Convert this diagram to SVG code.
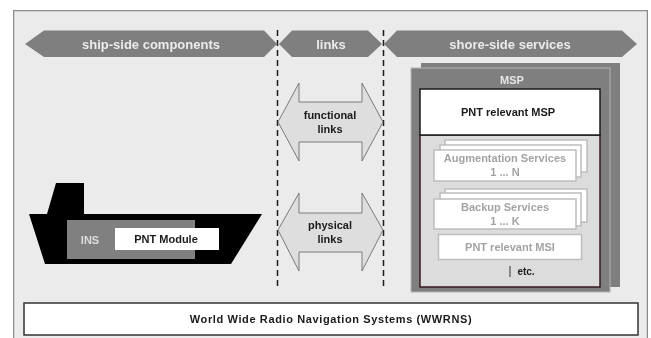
<svg xmlns="http://www.w3.org/2000/svg" width="651" height="338" viewBox="0 0 651 338">
<style>
text{font-family:"Liberation Sans",Arial,sans-serif;font-weight:700;text-anchor:middle}
.ban{fill:#7f7f7f}
.bt{fill:#ececec;font-size:13px}
.arr{fill:#dedede;stroke:#7a7a7a;stroke-width:1}
.dash{fill:none;stroke:#1a1a1a;stroke-width:1.5;stroke-dasharray:6 4}
.card{fill:#fff;stroke:#bdbdbd;stroke-width:1.5}
.gt{fill:#a3a3a3;font-size:11px}
.bk{fill:#1a1a1a;font-size:11px}
</style>
<defs><filter id="soft" x="0" y="0" width="100%" height="100%"><feGaussianBlur stdDeviation="0.4"/></filter></defs>
<rect width="651" height="338" fill="#fff"/>
<g filter="url(#soft)">
<path d="M13.5 338V10.5H647.5V338" fill="#ebebeb" stroke="#8c8c8c" stroke-width="1.5"/>
<g id="banner-ship"><path class="ban" d="M25 44L44 30.500H264L277 44L264 57H44Z"/><text class="bt" x="151" y="49">ship-side components</text></g>
<g id="banner-links"><path class="ban" d="M279 44L292 30.500H368L382 44L368 57H292Z"/><text class="bt" x="331" y="49">links</text></g>
<g id="banner-shore"><path class="ban" d="M384 44L397 30.500H622L637 44L622 57H397Z"/><text class="bt" x="510" y="49">shore-side services</text></g>
<g id="connectors">
<path class="dash" d="M277.500 30V288"/>
<path class="dash" d="M383.500 30V288"/>
</g>
<g id="functional-links"><path class="arr" d="M278 122L299 83V102H362V83L383 122L362 161V142H299V161Z"/><text class="bk" x="330" y="119">functional</text><text class="bk" x="330" y="133">links</text></g>
<g id="physical-links"><path class="arr" d="M278 230L299 193V213H362V193L383 230L362 271V252H299V271Z"/><text class="bk" x="330" y="229">physical</text><text class="bk" x="330" y="243">links</text></g>
<g id="ship">
<path d="M29 214H47L56 183H84V214H262L231 264H45Z" fill="#000"/>
<rect x="67" y="220" width="128" height="39" fill="#808080"/>
<text x="90" y="244" fill="#dcdcdc" font-size="11">INS</text>
</g>
<g id="pnt-module"><rect x="115" y="228" width="104" height="22" fill="#fff"/><text class="bk" x="166" y="243">PNT Module</text></g>
<g id="msp">
<rect x="421" y="63" width="199" height="224" fill="#7f7f7f"/>
<rect x="411" y="68" width="199" height="224" fill="#7f7f7f" stroke="#b5b5b5" stroke-width="1"/>
<text x="512" y="84" fill="#e6e6e6" font-size="11">MSP</text>
<rect x="420" y="135" width="180" height="152" fill="#dcdcdc" stroke="#3a1a1f" stroke-width="1.500"/>
</g>
<g id="pnt-relevant-msp"><rect x="420" y="89" width="180" height="46" fill="#fff" stroke="#1a1a1a" stroke-width="1.500"/><text class="bk" x="508" y="116">PNT relevant MSP</text></g>
<g id="augmentation-services">
<rect class="card" x="445" y="140" width="142" height="32"/>
<rect class="card" x="440" y="145" width="141" height="32"/>
<rect class="card" x="434" y="150" width="142" height="31"/>
<text class="gt" x="505" y="162">Augmentation Services</text>
<text class="gt" x="505" y="176">1 ... N</text>
</g>
<g id="backup-services">
<rect class="card" x="445" y="189" width="142" height="33"/>
<rect class="card" x="440" y="193" width="141" height="33"/>
<rect class="card" x="434" y="199" width="142" height="30"/>
<text class="gt" x="505" y="211">Backup Services</text>
<text class="gt" x="505" y="225">1 ... K</text>
</g>
<g id="pnt-relevant-msi"><rect class="card" x="438.500" y="234.500" width="143" height="25"/><text class="gt" x="510" y="251">PNT relevant MSI</text></g>
<text class="bk" x="526" y="275" style="font-size:10px">etc.</text>
<path d="M510 266V277" stroke="#333" stroke-width="1"/>
<g id="wwrns"><rect x="24" y="303" width="614" height="32" fill="#fff" stroke="#333" stroke-width="1.500"/><text class="bk" x="331" y="323" letter-spacing="0.62">World Wide Radio Navigation Systems (WWRNS)</text></g>
</g>
</svg>
